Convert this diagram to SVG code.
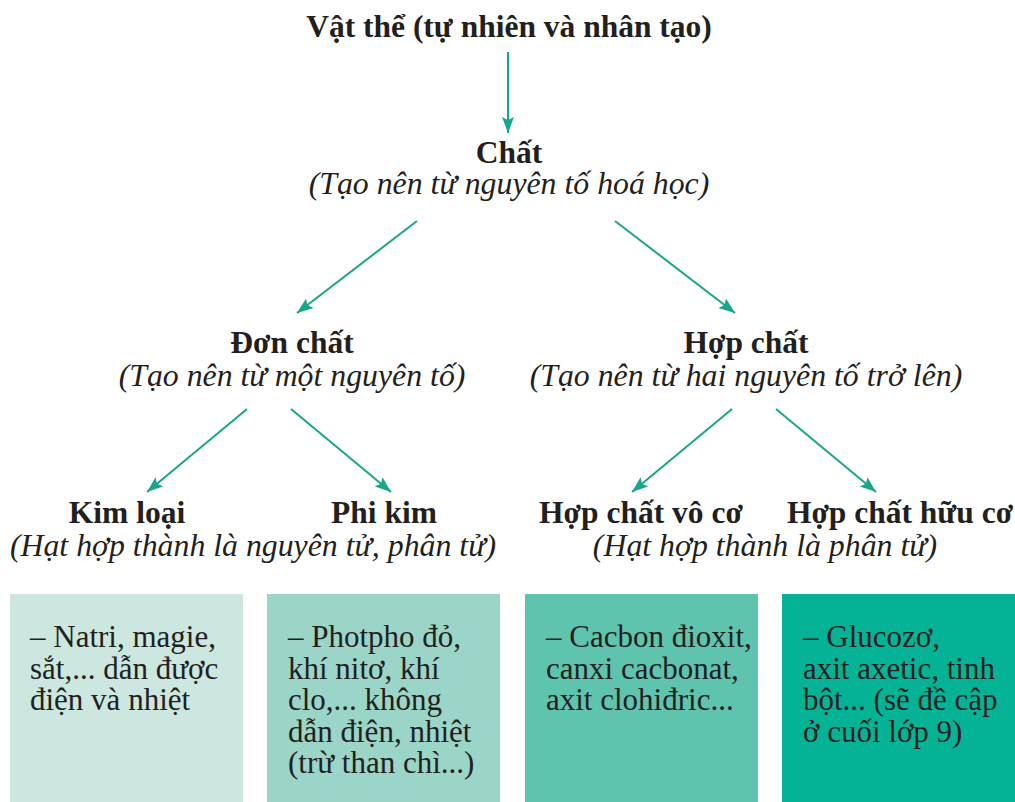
<svg xmlns="http://www.w3.org/2000/svg" width="1015" height="802" viewBox="0 0 1015 802">
<defs>
<style>
.b{font-family:"Liberation Serif","Times New Roman",serif;font-weight:bold;font-size:31.5px;fill:#231f20;text-anchor:middle}
.i{font-family:"Liberation Serif","Times New Roman",serif;font-style:italic;font-size:31.8px;fill:#231f20;text-anchor:middle}
.t{font-family:"Liberation Serif","Times New Roman",serif;font-size:31px;fill:#231f20}
.c{stroke:#17a689;stroke-width:2;fill:none;marker-end:url(#ah)}
</style>
<marker id="ah" markerUnits="userSpaceOnUse" markerWidth="17" markerHeight="12" refX="16" refY="6" orient="auto">
<path d="M0,0 L16,6 L0,12 L3,6 Z" fill="#17a689"/>
</marker>
</defs>
<rect width="1015" height="802" fill="#ffffff"/>
<g id="connectors">
<line class="c" x1="508" y1="52" x2="508" y2="133"/>
<line class="c" x1="417" y1="221" x2="297" y2="313"/>
<line class="c" x1="615" y1="221" x2="735" y2="313"/>
<line class="c" x1="247" y1="409" x2="147" y2="492"/>
<line class="c" x1="291" y1="409" x2="391" y2="492"/>
<line class="c" x1="732" y1="409" x2="632" y2="492"/>
<line class="c" x1="776" y1="409" x2="876" y2="492"/>
</g>
<g id="vat-the"><text class="b" x="509" y="37">Vật thể (tự nhiên và nhân tạo)</text></g>
<g id="chat"><text class="b" x="509" y="163">Chất</text><text class="i" x="509" y="194">(Tạo nên từ nguyên tố hoá học)</text></g>
<g id="don-chat"><text class="b" x="292" y="353">Đơn chất</text><text class="i" x="292" y="386">(Tạo nên từ một nguyên tố)</text></g>
<g id="hop-chat"><text class="b" x="746" y="353">Hợp chất</text><text class="i" x="746" y="386">(Tạo nên từ hai nguyên tố trở lên)</text></g>
<g id="kim-loai"><text class="b" x="127" y="523">Kim loại</text></g>
<g id="phi-kim"><text class="b" x="384" y="523">Phi kim</text></g>
<g id="don-chat-note"><text class="i" x="253" y="556">(Hạt hợp thành là nguyên tử, phân tử)</text></g>
<g id="vo-co"><text class="b" x="641" y="523">Hợp chất vô cơ</text></g>
<g id="huu-co"><text class="b" x="900" y="523">Hợp chất hữu cơ</text></g>
<g id="hop-chat-note"><text class="i" x="765" y="556">(Hạt hợp thành là phân tử)</text></g>
<g id="box-kim-loai">
<rect x="10" y="594" width="233" height="208" fill="#cbe7df"/>
<text class="t"><tspan x="30" y="647">– Natri, magie,</tspan><tspan x="30" y="679">sắt,... dẫn được</tspan><tspan x="30" y="710">điện và nhiệt</tspan></text>
</g>
<g id="box-phi-kim">
<rect x="267" y="594" width="233" height="208" fill="#9ad5c8"/>
<text class="t"><tspan x="288" y="647">– Photpho đỏ,</tspan><tspan x="288" y="679">khí nitơ, khí</tspan><tspan x="288" y="710">clo,... không</tspan><tspan x="288" y="742">dẫn điện, nhiệt</tspan><tspan x="288" y="773">(trừ than chì...)</tspan></text>
</g>
<g id="box-vo-co">
<rect x="525" y="594" width="233" height="208" fill="#5fc4ae"/>
<text class="t"><tspan x="546" y="647">– Cacbon đioxit,</tspan><tspan x="546" y="679">canxi cacbonat,</tspan><tspan x="546" y="710">axit clohiđric...</tspan></text>
</g>
<g id="box-huu-co">
<rect x="782" y="594" width="233" height="208" fill="#04b396"/>
<text class="t"><tspan x="803" y="647">– Glucozơ,</tspan><tspan x="803" y="679">axit axetic, tinh</tspan><tspan x="803" y="710">bột... (sẽ đề cập</tspan><tspan x="803" y="742">ở cuối lớp 9)</tspan></text>
</g>
</svg>
